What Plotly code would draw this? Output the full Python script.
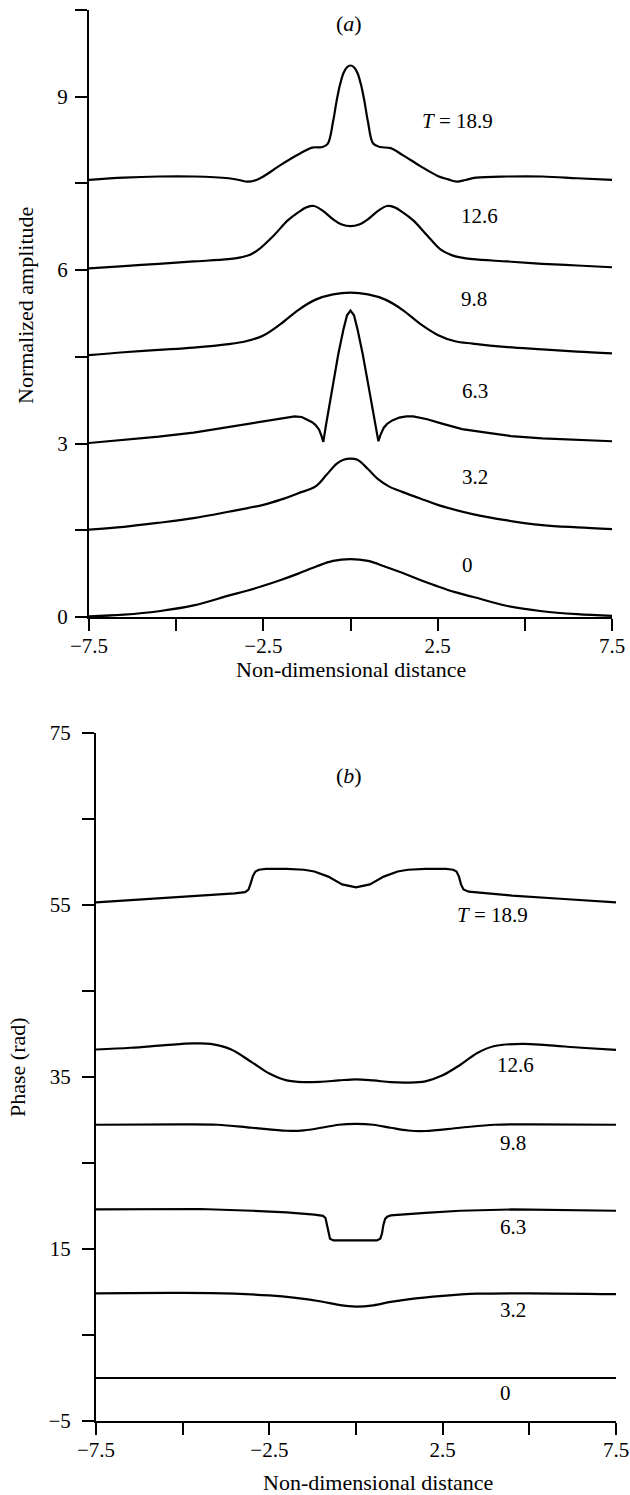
import plotly.graph_objects as go

# ---------------- (a) Normalized amplitude ----------------
amp_T0_x = [-7.5,-6.5,-5.5,-4.5,-3.5,-3.0,-2.5,-2.0,-1.5,-1.0,-0.5,0,0.5,1.0,1.5,2.0,2.5,3.0,3.5,4.5,5.5,6.5,7.5]
amp_T0_y = [0.01,0.04,0.10,0.20,0.37,0.45,0.54,0.64,0.75,0.87,0.97,1.00,0.97,0.87,0.76,0.64,0.53,0.43,0.35,0.19,0.10,0.05,0.02]

amp_T32_x = [-7.5,-6.5,-5.5,-4.5,-3.5,-2.5,-2.0,-1.5,-1.0,-0.7,-0.4,-0.2,0,0.2,0.5,0.8,1.1,1.5,2.0,2.5,3.5,4.5,5.5,6.5,7.5]
amp_T32_y = [1.51,1.56,1.63,1.71,1.82,1.94,2.03,2.14,2.26,2.45,2.65,2.72,2.74,2.72,2.56,2.38,2.26,2.16,2.05,1.94,1.78,1.67,1.59,1.55,1.52]

amp_T63_x = [-7.5,-6.5,-5.5,-4.5,-3.5,-2.5,-2.0,-1.8,-1.6,-1.4,-1.25,-1.1,-1.0,-0.9,-0.83,-0.78,-0.7,-0.6,-0.48,-0.35,-0.2,-0.1,0,
             0.1,0.2,0.35,0.5,0.62,0.72,0.80,0.86,0.95,1.05,1.2,1.4,1.6,1.8,2.0,2.2,2.6,3.2,4.0,4.6,5.5,6.5,7.5]
amp_T63_y = [3.01,3.06,3.12,3.19,3.29,3.39,3.44,3.46,3.47,3.46,3.42,3.37,3.32,3.24,3.13,3.03,3.33,3.68,4.11,4.55,4.98,5.22,5.30,
             5.22,4.98,4.55,4.05,3.62,3.30,3.04,3.15,3.27,3.34,3.40,3.45,3.47,3.47,3.45,3.42,3.35,3.25,3.18,3.13,3.09,3.06,3.04]

amp_T98_x = [-7.5,-6.5,-5.5,-4.5,-3.5,-3.0,-2.5,-2.0,-1.5,-1.0,-0.5,0,0.5,1.0,1.5,2.0,2.5,3.0,3.5,4.5,5.5,6.5,7.5]
amp_T98_y = [4.53,4.58,4.62,4.66,4.72,4.77,4.87,5.07,5.31,5.49,5.58,5.61,5.58,5.49,5.31,5.07,4.88,4.77,4.73,4.67,4.63,4.59,4.56]

amp_T126_x = [-7.5,-6.5,-5.5,-4.5,-3.5,-3.15,-2.9,-2.65,-2.2,-1.8,-1.5,-1.25,-1.05,-0.8,-0.5,-0.25,0,
              0.25,0.5,0.8,1.05,1.25,1.5,1.8,2.2,2.6,2.9,3.15,3.5,4.5,5.5,6.5,7.5]
amp_T126_y = [6.03,6.07,6.11,6.15,6.19,6.22,6.26,6.35,6.60,6.86,7.00,7.09,7.11,7.03,6.88,6.79,6.76,
              6.79,6.88,7.03,7.11,7.09,7.00,6.86,6.60,6.35,6.26,6.22,6.19,6.15,6.11,6.08,6.05]

amp_T189_x = [-7.5,-6.5,-5.5,-4.5,-3.5,-3.2,-2.95,-2.7,-2.5,-2.0,-1.5,-1.1,-0.8,-0.65,-0.5,-0.4,-0.3,-0.2,-0.1,0,
              0.1,0.2,0.3,0.4,0.5,0.65,0.85,1.15,1.5,2.0,2.5,2.8,3.05,3.3,3.6,4.5,5.5,6.5,7.5]
amp_T189_y = [7.56,7.60,7.62,7.62,7.59,7.56,7.53,7.56,7.62,7.82,8.00,8.12,8.13,8.19,8.57,8.92,9.21,9.41,9.51,9.54,
              9.51,9.41,9.21,8.92,8.57,8.19,8.13,8.11,7.99,7.80,7.63,7.57,7.53,7.56,7.60,7.62,7.62,7.59,7.56]

# ---------------- (b) Phase ----------------
ph_T0_x = [-7.5,-2.5,0,2.5,7.5]
ph_T0_y = [0.0,0.0,0.0,0.0,0.0]

ph_T32_x = [-7.5,-5.0,-3.5,-2.5,-1.8,-1.0,-0.5,0,0.5,1.0,1.5,2.5,3.5,5.0,7.5]
ph_T32_y = [9.85,9.9,9.8,9.6,9.35,8.9,8.5,8.3,8.45,8.85,9.15,9.55,9.8,9.85,9.75]

ph_T63_x = [-7.5,-6.0,-4.5,-3.0,-2.0,-1.2,-0.95,-0.88,-0.84,-0.8,-0.75,-0.65,0,0.6,0.7,0.75,0.79,0.84,0.9,1.0,2.0,3.0,4.5,6.0,7.5]
ph_T63_y = [19.6,19.65,19.65,19.45,19.25,19.0,18.85,18.6,17.8,16.8,16.2,16.0,16.0,16.0,16.2,16.8,17.8,18.5,18.75,18.9,19.2,19.45,19.6,19.55,19.45]

ph_T98_x = [-7.5,-5.0,-4.0,-3.0,-2.0,-1.5,-1.0,-0.5,0,0.5,1.0,1.5,2.0,3.0,4.0,5.0,7.5]
ph_T98_y = [29.45,29.5,29.45,29.1,28.75,28.8,29.1,29.45,29.55,29.45,29.1,28.78,28.72,29.1,29.45,29.5,29.45]

ph_T126_x = [-7.5,-6.5,-5.5,-4.7,-4.2,-3.6,-3.0,-2.5,-2.0,-1.5,-1.0,-0.5,0,0.5,1.0,1.5,2.0,2.5,3.0,3.5,4.0,4.8,5.5,6.5,7.5]
ph_T126_y = [38.2,38.4,38.7,38.9,38.85,38.2,36.7,35.4,34.6,34.4,34.45,34.6,34.73,34.6,34.4,34.35,34.5,35.2,36.4,37.8,38.6,38.85,38.7,38.4,38.15]

ph_T189_x = [-7.5,-6.0,-4.5,-3.5,-3.2,-3.1,-3.03,-2.97,-2.9,-2.8,-2.6,-2.0,-1.5,-1.2,-0.8,-0.4,0,
             0.4,0.8,1.2,1.5,2.0,2.6,2.8,2.9,2.97,3.03,3.1,3.25,3.5,4.5,6.0,7.5]
ph_T189_y = [55.3,55.7,56.05,56.35,56.5,56.8,57.6,58.4,58.9,59.1,59.2,59.2,59.1,58.9,58.3,57.4,57.06,
             57.4,58.3,58.9,59.1,59.2,59.2,59.1,58.9,58.3,57.4,56.8,56.55,56.45,56.1,55.7,55.3]

labels = ["0", "3.2", "6.3", "9.8", "12.6", "<i>T</i> = 18.9"]
amp_label_x = [3.36, 3.58, 3.58, 3.53, 3.70, 3.07]
amp_label_y = [0.90, 2.43, 3.91, 5.50, 6.93, 8.58]
ph_label_x = [4.30, 4.53, 4.53, 4.53, 4.59, 3.95]
ph_label_y = [-1.74, 7.9, 17.56, 27.3, 36.4, 53.84]

amp_ticks = [0, 1.5, 3, 4.5, 6, 7.5, 9, 10.5]
amp_ticktext = ["0", "", "3", "", "6", "", "9", ""]
ph_ticks = [-5, 5, 15, 25, 35, 45, 55, 65, 75]
ph_ticktext = ["\u22125", "", "15", "", "35", "", "55", "", "75"]
x_ticks = [-7.5, -5, -2.5, 0, 2.5, 5, 7.5]
x_ticktext = ["\u22127.5", "", "\u22122.5", "", "2.5", "", "7.5"]

W, H = 630, 1495
FONT = "Liberation Serif"
FS = 21

fig = go.Figure()
amp_sets = [(amp_T0_x, amp_T0_y, "spline"), (amp_T32_x, amp_T32_y, "spline"), (amp_T63_x, amp_T63_y, "linear"),
            (amp_T98_x, amp_T98_y, "spline"), (amp_T126_x, amp_T126_y, "spline"), (amp_T189_x, amp_T189_y, "spline")]
for xs, ys, shp in amp_sets:
    fig.add_trace(go.Scatter(x=xs, y=ys, mode="lines", line=dict(color="black", width=2.2, shape=shp, smoothing=1.0),
                             xaxis="x", yaxis="y", showlegend=False, hoverinfo="skip"))
ph_sets = [(ph_T0_x, ph_T0_y, "linear"), (ph_T32_x, ph_T32_y, "spline"), (ph_T63_x, ph_T63_y, "linear"),
           (ph_T98_x, ph_T98_y, "spline"), (ph_T126_x, ph_T126_y, "spline"), (ph_T189_x, ph_T189_y, "linear")]
for xs, ys, shp in ph_sets:
    fig.add_trace(go.Scatter(x=xs, y=ys, mode="lines", line=dict(color="black", width=2.2, shape=shp, smoothing=1.0),
                             xaxis="x2", yaxis="y2", showlegend=False, hoverinfo="skip"))

axis_common = dict(showline=True, linecolor="black", linewidth=2, ticks="outside", ticklen=12, tickwidth=2,
                   tickcolor="black", showgrid=False, zeroline=False, automargin=False,
                   tickfont=dict(family=FONT, size=FS, color="black"))

fig.update_layout(
    width=W, height=H, autosize=False,
    margin=dict(l=0, r=0, t=0, b=0, pad=0),
    paper_bgcolor="white", plot_bgcolor="white",
    xaxis=dict(domain=[89/W, 612/W], anchor="y", range=[-7.5, 7.5], tickmode="array",
               tickvals=x_ticks, ticktext=x_ticktext, ticklabelstandoff=-3, **axis_common),
    yaxis=dict(domain=[1-617/H, 1-10/H], anchor="x", range=[0, 10.5], tickmode="array",
               tickvals=amp_ticks, ticktext=amp_ticktext, ticklabelstandoff=3, **axis_common),
    xaxis2=dict(domain=[96/W, 616/W], anchor="y2", range=[-7.5, 7.5], tickmode="array",
                tickvals=x_ticks, ticktext=x_ticktext, ticklabelstandoff=-3, **axis_common),
    yaxis2=dict(domain=[1-1421/H, 1-733/H], anchor="x2", range=[-5, 75], tickmode="array",
                tickvals=ph_ticks, ticktext=ph_ticktext, ticklabelstandoff=7, **axis_common),
)

ann = []
for t, xv, yv in zip(labels, amp_label_x, amp_label_y):
    ann.append(dict(x=xv, y=yv, xref="x", yref="y", text=t, showarrow=False,
                    font=dict(family=FONT, size=FS, color="black")))
for t, xv, yv in zip(labels, ph_label_x, ph_label_y):
    ann.append(dict(x=xv, y=yv, xref="x2", yref="y2", text=t, showarrow=False,
                    font=dict(family=FONT, size=FS, color="black")))

def px(xp, yp):
    return xp / W, 1 - yp / H

for text, (xp, yp), ang in [
    ("(<i>a</i>)", (349, 24), 0),
    ("(<i>b</i>)", (349, 775), 0),
    ("Non-dimensional distance", (351, 669), 0),
    ("Non-dimensional distance", (378, 1482), 0),
    ("Normalized amplitude", (25, 306), -90),
    ("Phase (rad)", (17, 1067), -90),
]:
    xx, yy = px(xp, yp)
    ann.append(dict(x=xx, y=yy, xref="paper", yref="paper", text=text, showarrow=False,
                    textangle=ang, xanchor="center", yanchor="middle",
                    font=dict(family=FONT, size=FS + 1, color="black")))

fig.update_layout(annotations=ann)
fig.write_html("out.html", config={"displayModeBar": False},
               post_script="document.body.style.margin='0';document.body.style.overflow='hidden';")
